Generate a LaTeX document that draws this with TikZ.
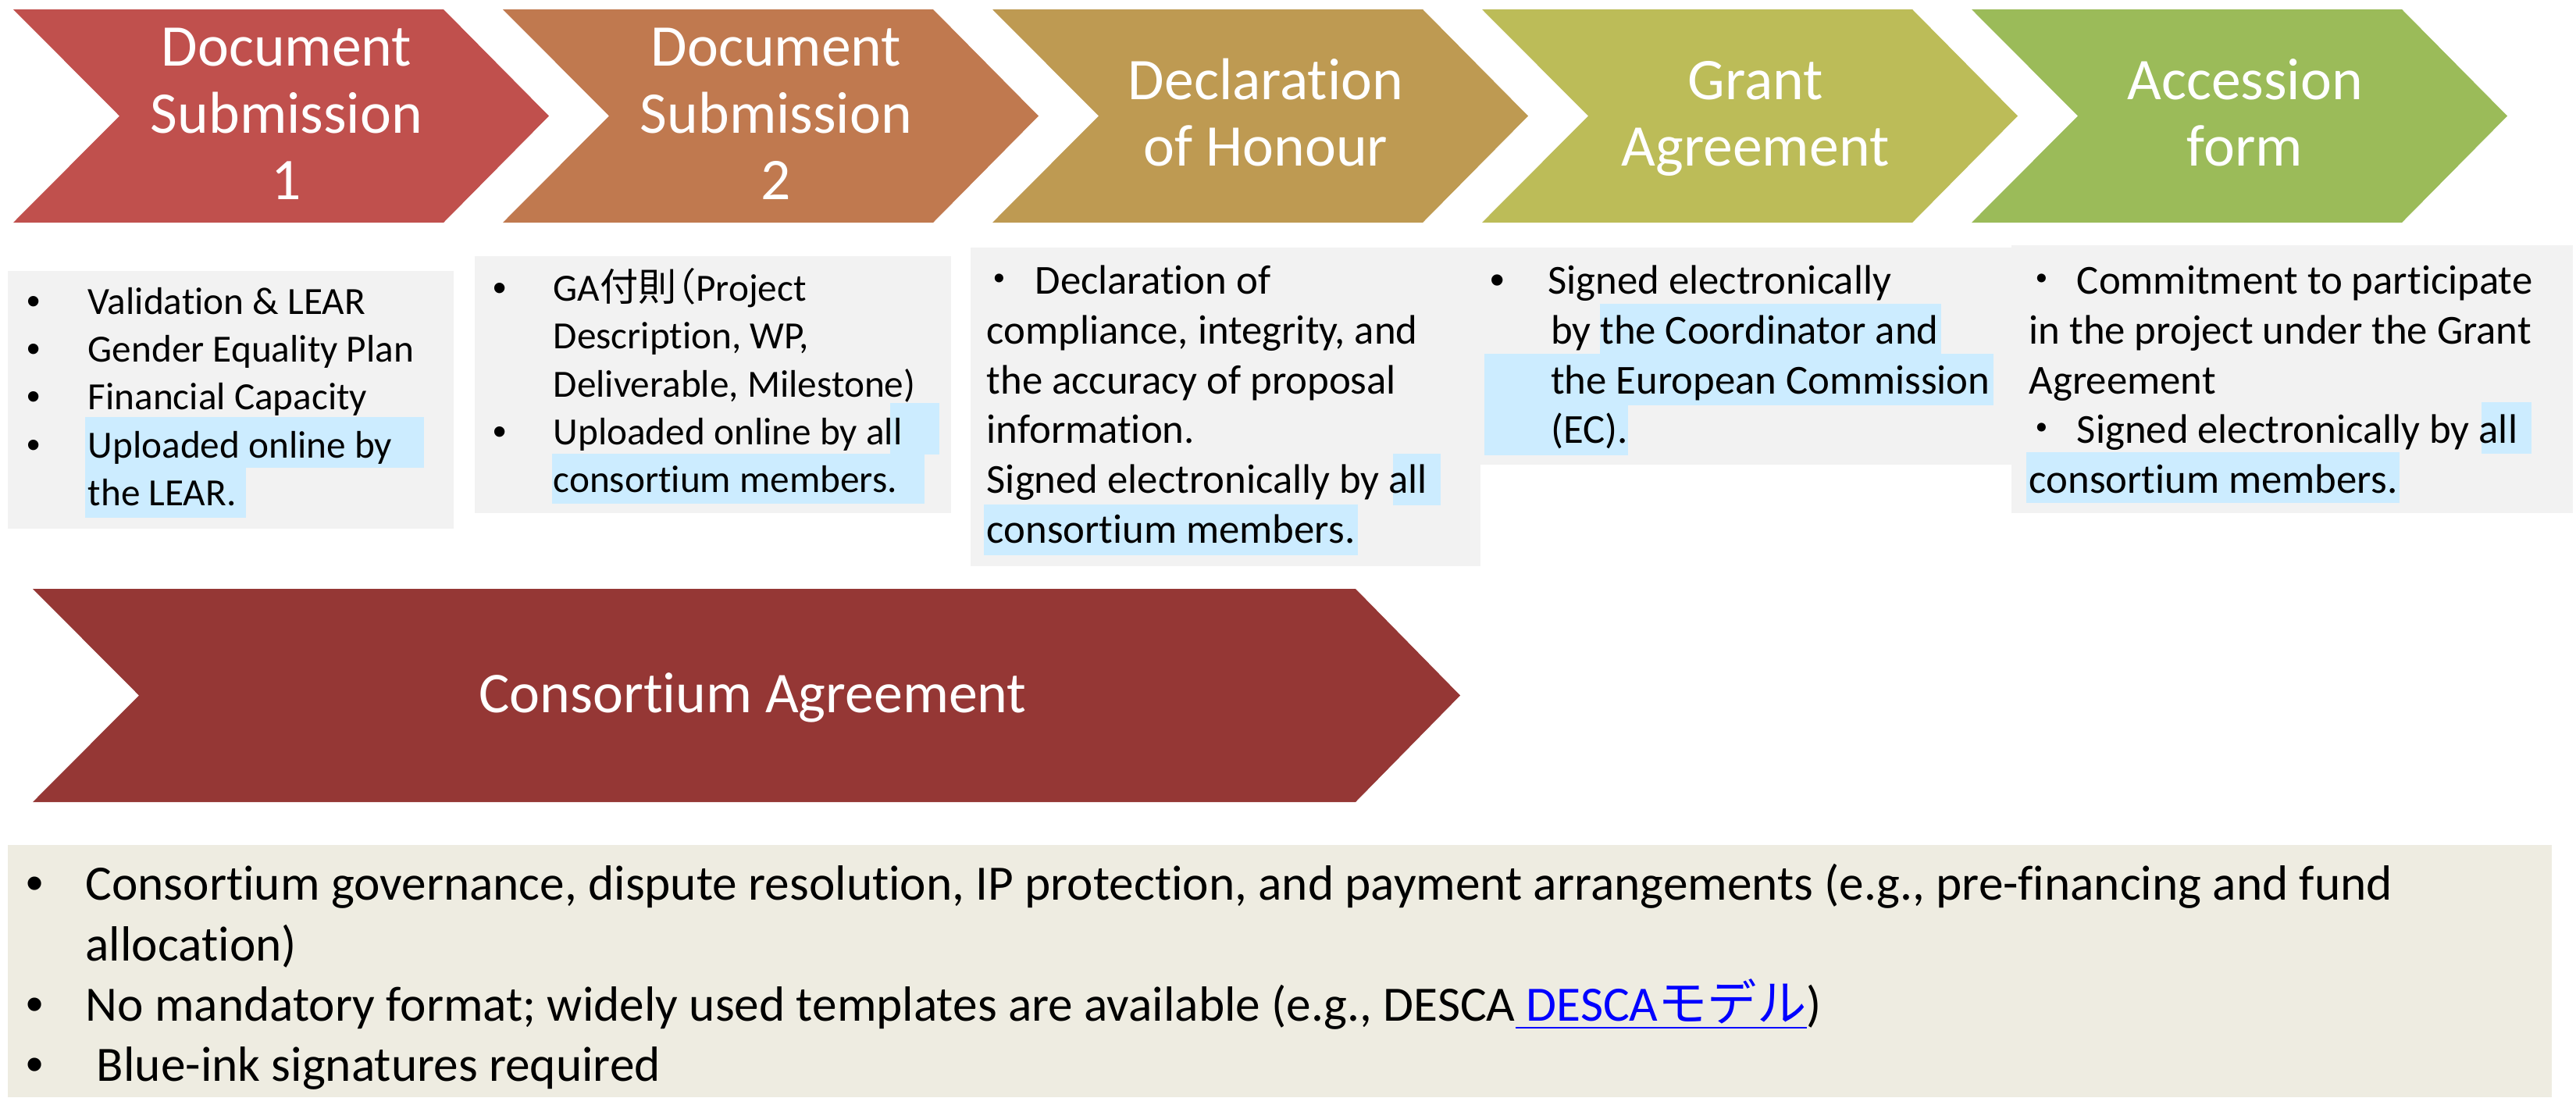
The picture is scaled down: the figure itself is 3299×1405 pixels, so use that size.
\documentclass[tikz,border=0pt]{standalone}
\usepackage{fontspec}
\setmainfont{Carlito}[Ligatures=NoCommon]
\newfontfamily\cjk{Noto Sans CJK JP}
\newfontfamily\bfont{Liberation Sans}

\definecolor{stepA}{HTML}{C0504D}
\definecolor{stepB}{HTML}{C0794F}
\definecolor{stepC}{HTML}{BE9A52}
\definecolor{stepD}{HTML}{BCBC58}
\definecolor{stepE}{HTML}{9BBB59}
\definecolor{caRed}{HTML}{953735}
\definecolor{noteGray}{HTML}{F2F2F2}
\definecolor{noteTan}{HTML}{EEECE1}
\definecolor{hlBlue}{HTML}{CCECFF}
\definecolor{linkBlue}{HTML}{0000FF}

\newcommand{\blt}[1]{\makebox[#1][l]{\bfont •}}
\newcommand{\jdot}[1]{\makebox[#1][l]{\hspace*{-2.8pt}\cjk ・}}

\tikzset{
  title/.style={text=white, align=center, inner sep=0pt,
    font=\fontsize{21.5}{24.19}\selectfont},
  note/.style={fill=noteGray},
  mark box/.style={fill=hlBlue},
  list/.style={anchor=north west, inner sep=0pt, align=left},
  listS/.style={list, font=\fontsize{14}{17.4}\selectfont},
  listM/.style={list, font=\fontsize{15}{18.15}\selectfont},
  listL/.style={list, font=\fontsize{18}{22}\selectfont}
}

\begin{document}
\begin{tikzpicture}[x=0.01cm, y=-0.01cm]
\useasboundingbox (0,0) rectangle (3299,1405);

% Steps
\foreach \col/\txt [count=\i from 0] in {
    stepA/{Document\\Submission\\1},
    stepB/{Document\\Submission\\2},
    stepC/{Declaration\\of Honour},
    stepD/{Grant\\Agreement},
    stepE/{Accession\\form}} {
  \fill[\col] (\i*627+17,12) -- ++(551,0) -- ++(135,136.5) -- ++(-135,136.5)
    -- ++(-551,0) -- ++(136,-136.5) -- cycle;
  \node[title] (step\i) at (\i*627+367,153) {\strut\txt\strut};
}

% Notes
\fill[note] (10,347) rectangle (581,677);
\fill[note] (608,328) rectangle (1218,657);
\fill[note] (1243,317) rectangle (1896,725);
\fill[note] (1896,317) rectangle (2576,595);
\fill[note] (2576,314) rectangle (3295,657);

% Highlights
\fill[mark box] (109,534) rectangle (543,599);
\fill[mark box] (109,599) rectangle (315,663);
\fill[mark box] (1140,516) rectangle (1203,582);
\fill[mark box] (707,581) rectangle (1184,645);
\fill[mark box] (1784,581) rectangle (1845,647);
\fill[mark box] (1260,646) rectangle (1739,711);
\fill[mark box] (2049,389) rectangle (2486,453);
\fill[mark box] (1901,453) rectangle (2553,519);
\fill[mark box] (1901,519) rectangle (2085,583);
\fill[mark box] (3178,515) rectangle (3242,581);
\fill[mark box] (2595,579) rectangle (3073,644);

\node[listS] (noteA) at (34,359) {\strut\blt{22.2pt}Validation \& LEAR\\
  \blt{22.2pt}Gender Equality Plan\\
  \blt{22.2pt}Financial Capacity\\
  \blt{22.2pt}Uploaded online by\\
  \hspace*{22.2pt}the LEAR.};
\node[listS, font=\fontsize{14}{17.43}\selectfont] (noteB) at (631,342)
  {\strut\blt{21.9pt}GA{\cjk 付則\kern-0.5em（}Project\\
  \hspace*{21.9pt}Description, WP,\\
  \hspace*{21.9pt}Deliverable, Milestone)\\
  \blt{21.9pt}Uploaded online by all\\
  \hspace*{21.9pt}consortium members.};
\node[listM] (noteC) at (1263,331) {\strut\jdot{17.6pt}Declaration of\\
  compliance, integrity, and\\
  the accuracy of proposal\\
  information.\\
  Signed electronically by all\\
  consortium members.};
\node[listM] (noteD) at (1908,331) {\strut\blt{21pt}Signed electronically\\
  \hspace*{22pt}by the Coordinator and\\
  \hspace*{22pt}the European Commission\\
  \hspace*{22pt}(EC).};
\node[listM] (noteE) at (2598,331) {\strut\jdot{17.4pt}Commitment to participate\\
  in the project under the Grant\\
  Agreement\\
  \jdot{17.4pt}Signed electronically by all\\
  consortium members.};

% Consortium Agreement
\fill[caRed] (42,754) -- (1736,754) -- (1870,890.5) -- (1736,1027)
  -- (42,1027) -- (178,890.5) -- cycle;
\node[text=white, inner sep=0pt, anchor=base, font=\fontsize{21}{25}\selectfont]
  (consort) at (964,912) {Consortium Agreement};

\fill[noteTan] (10,1082) rectangle (3268,1405);
\node[listL] (terms) at (33,1098) {\strut\blt{21.6pt}Consortium governance, dispute resolution, IP protection, and payment arrangements (e.g., pre-financing and fund\\
  \hspace*{21.6pt}allocation)\\
  \blt{21.6pt}No mandatory format; widely used templates are available (e.g., DESCA{\color{linkBlue}\underline{\ DESCA{\cjk モデル}}})\\
  \blt{21.6pt}\ Blue-ink signatures required};
\end{tikzpicture}
\end{document}
